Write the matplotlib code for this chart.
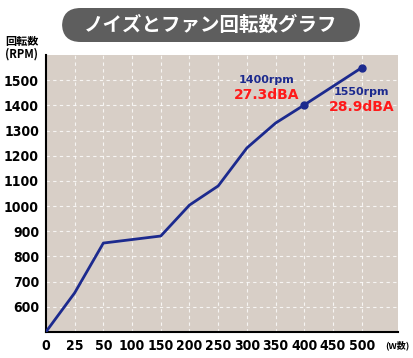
import matplotlib.pyplot as plt
from matplotlib.patches import FancyBboxPatch

plt.rcParams['font.family'] = ['Noto Sans CJK JP', 'DejaVu Sans']

watts = ["0", "25", "50", "100", "150", "200", "250", "300", "350", "400", "450", "500"]
rpm = [500, 655, 853, 867, 881, 1004, 1080, 1231, 1330, 1402, 1476, 1550]
y_ticks = [600, 700, 800, 900, 1000, 1100, 1200, 1300, 1400, 1500]

navy = "#1c2a8e"
red = "#ff1a1a"
num_font = ["DejaVu Sans"]

fig = plt.figure(figsize=(4.14, 3.58), dpi=100)
ax = fig.add_axes([0.111, 0.073, 0.85, 0.773])
ax.set_facecolor("#d8cfc7")

x = list(range(len(watts)))
ax.plot(x, rpm, color=navy, lw=2.0, zorder=3)
ax.plot([9, 11], [rpm[9], rpm[11]], "o", color=navy, ms=5, zorder=4)

ax.set_xlim(0, 12.26)
ax.set_ylim(500, 1600)
ax.set_xticks(x)
ax.set_xticklabels(watts)
ax.set_yticks(y_ticks)

ax.grid(True, color="white", ls=(0, (3, 3)), lw=0.8, alpha=0.8)
ax.set_axisbelow(True)
for s in ["top", "right"]:
    ax.spines[s].set_visible(False)
ax.spines["left"].set_linewidth(1.5)
ax.spines["bottom"].set_linewidth(1.5)
ax.tick_params(length=0, pad=5)
for lab in ax.get_xticklabels() + ax.get_yticklabels():
    lab.set_fontweight("bold")
    lab.set_fontsize(10)
    lab.set_family(num_font)
    lab.set_stretch("condensed")

ax.text(7.7, 1500, "1400rpm", color=navy, fontsize=8, fontweight="bold", ha="center", va="center", family=num_font)
ax.text(7.7, 1440, "27.3dBA", color=red, fontsize=10, fontweight="bold", ha="center", va="center", family=num_font)
ax.text(11.0, 1453, "1550rpm", color=navy, fontsize=8, fontweight="bold", ha="center", va="center", family=num_font)
ax.text(11.0, 1395, "28.9dBA", color=red, fontsize=10, fontweight="bold", ha="center", va="center", family=num_font)

fig.text(0.012, 0.83, "回転数\n(RPM)", fontsize=8, fontweight="bold", ha="left", va="bottom", linespacing=1.0)
fig.text(0.99, 0.035, "(W数)", fontsize=6.5, fontweight="bold", ha="right", va="center")

box = FancyBboxPatch((62 / 414, 1 - 42 / 358), 298 / 414, 34 / 358,
                     boxstyle="round,pad=0,rounding_size=0.045", transform=fig.transFigure,
                     fc="#5e5e5e", ec="none", mutation_aspect=414 / 358)
fig.patches.append(box)
fig.text(211 / 414, 1 - 25 / 358, "ノイズとファン回転数グラフ", fontsize=14, fontweight="bold", color="white",
         ha="center", va="center")

fig.savefig("out.png", dpi=100)
